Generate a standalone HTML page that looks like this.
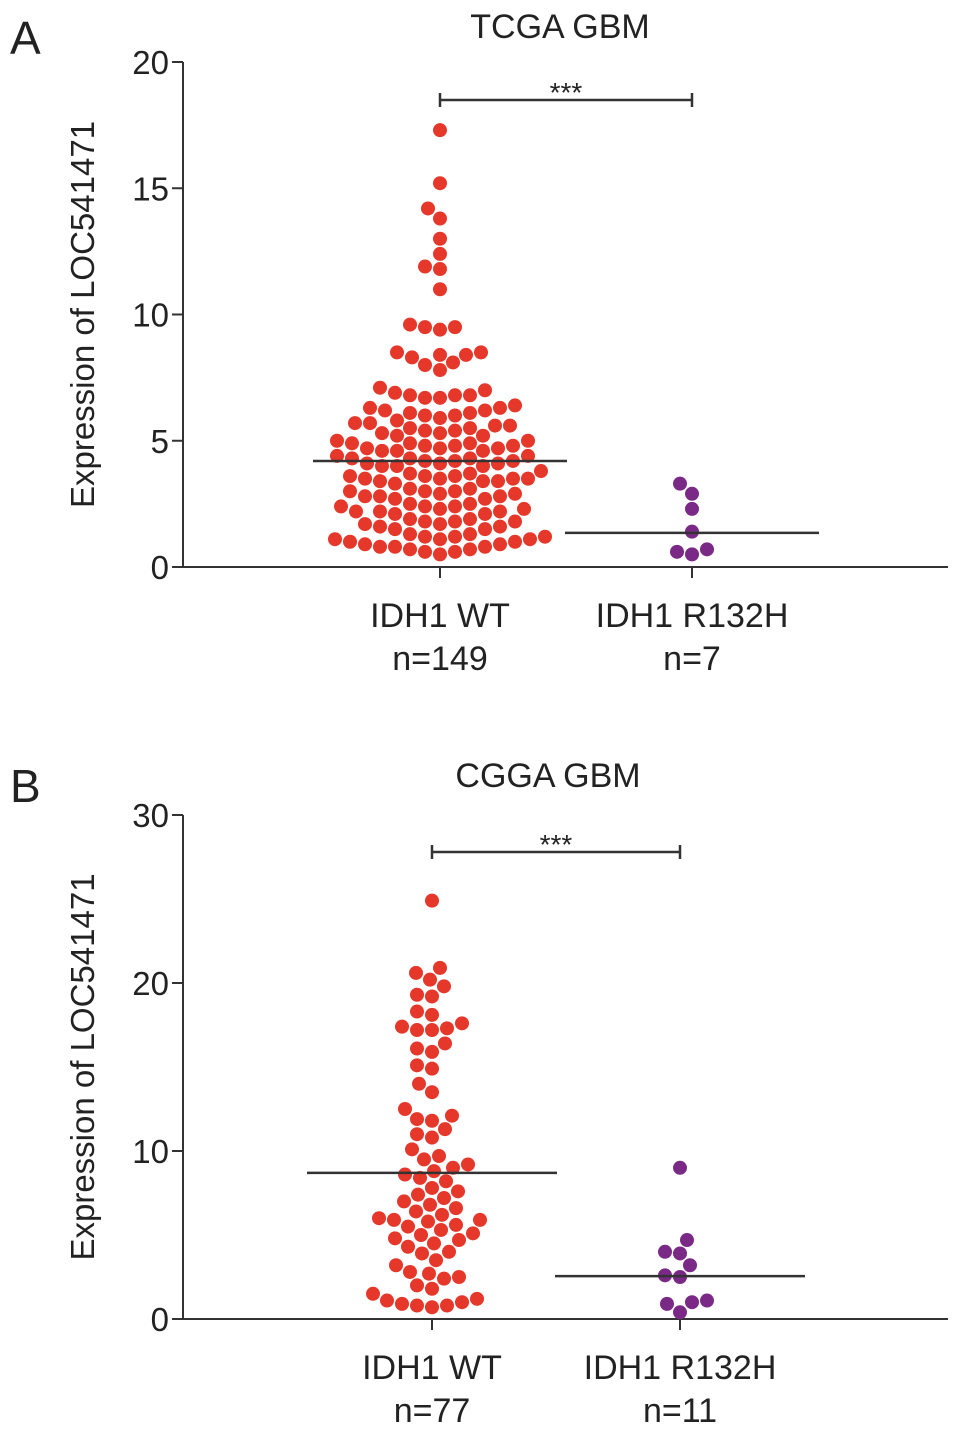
<!DOCTYPE html>
<html><head><meta charset="utf-8"><style>
html,body{margin:0;padding:0;background:#fff;}
svg{display:block;font-family:"Liberation Sans",Arial,sans-serif;}
</style></head><body>
<svg id="chart" width="969" height="1433" viewBox="0 0 969 1433"></svg>
<script>
const aCategories = ["IDH1 WT","IDH1 R132H"];
const aCounts = ["n=149","n=7"];
const aTicks = [0,5,10,15,20];
const aWT = [17.3,15.2,14.2,13.8,13.0,12.4,11.9,11.8,11.0,
9.6,9.5,9.5,9.4,8.5,8.5,8.4,8.4,8.3,8.1,8.0,7.8,
7.1,7.0,6.9,6.8,6.8,6.8,6.7,6.7,
6.4,6.3,6.3,6.2,6.2,6.1,6.1,6.0,6.0,5.9,5.8,
5.7,5.7,5.6,5.6,5.5,5.5,5.4,5.4,5.3,5.3,5.2,5.2,
5.0,5.0,4.9,4.9,4.9,4.8,4.8,4.8,4.7,4.7,4.7,4.6,4.6,4.6,
4.4,4.4,4.3,4.3,4.3,4.2,4.2,4.2,4.1,4.1,4.1,4.0,4.0,4.0,
3.8,3.7,3.7,3.6,3.6,3.6,3.5,3.5,3.5,3.5,3.4,3.4,3.4,3.3,
3.1,3.1,3.0,3.0,3.0,2.9,2.9,2.8,2.8,2.8,2.7,2.7,
2.5,2.5,2.4,2.4,2.4,2.3,2.3,2.2,2.2,2.2,2.1,2.1,
1.9,1.9,1.8,1.8,1.8,1.7,1.7,1.6,1.6,1.5,1.5,
1.3,1.3,1.2,1.2,1.2,1.1,1.1,1.1,1.0,1.0,
0.9,0.9,0.8,0.8,0.8,0.7,0.7,0.6,0.6,0.5];
const aMut = [3.3,2.9,2.3,1.4,0.7,0.6,0.5];
const aMedians = [4.2,1.35];

const bCategories = ["IDH1 WT","IDH1 R132H"];
const bCounts = ["n=77","n=11"];
const bTicks = [0,10,20,30];
const bWT = [24.9,20.9,20.6,20.2,19.8,19.3,19.2,18.3,18.1,17.6,17.4,17.3,17.2,17.2,
16.4,16.1,15.9,15.1,14.9,14.0,13.5,12.5,12.1,11.9,11.8,11.3,11.0,10.8,10.1,
9.7,9.5,9.2,9.0,8.8,8.6,8.4,8.2,7.8,7.6,7.4,7.2,7.0,
6.8,6.6,6.4,6.2,6.0,5.9,5.9,5.8,5.6,5.5,5.3,5.1,5.0,4.8,4.7,4.5,4.3,4.0,
3.9,3.5,3.2,2.8,2.7,2.5,2.4,2.0,1.8,1.5,1.2,1.1,1.0,0.9,0.8,0.8,0.7];
const bMut = [9.0,4.7,4.0,3.9,3.2,2.6,2.5,1.1,1.0,0.9,0.4];
const bMedians = [8.7,2.55];

const svg = document.getElementById('chart');
const NS = 'http://www.w3.org/2000/svg';
function mk(tag, attrs, parent){const e=document.createElementNS(NS,tag);for(const k in attrs)e.setAttribute(k,attrs[k]);(parent||svg).appendChild(e);return e;}

function swarm(vals, cx, yScale, r){
  const placed=[];const out=[];
  const sorted=vals.slice().sort((a,b)=>a-b);
  for(const v of sorted){
    const y=yScale(v);let x=cx;
    for(let s=0;s<400;s++){
      const off=(s%2===0?1:-1)*Math.ceil(s/2);
      const tx=cx+off;
      let ok=true;
      for(const p of placed){const dx=p[0]-tx,dy=p[1]-y;if(dx*dx+dy*dy<(2*r+1)*(2*r+1)){ok=false;break;}}
      if(ok){x=tx;break;}
    }
    placed.push([x,y]);out.push([x,y]);
  }
  return out;
}

function panel(o){
  const g=mk('g',{});
  
  
  const y=v=>o.y0-(v-0)*(o.y0-o.yTop)/o.yMax;
  const t=mk('text',{x:o.letterX,y:o.letterY,'font-size':46,fill:'#222'},g);t.textContent=o.letter;
  
  const ti=mk('text',{x:o.titleX,y:o.titleY,'font-size':34,fill:'#222','text-anchor':'middle'},g);ti.textContent=o.title;
  
  const yt=mk('text',{x:0,y:0,'font-size':33,fill:'#222','text-anchor':'middle',transform:`translate(94,${(o.y0+o.yTop)/2}) rotate(-90)`},g);yt.textContent='Expression of LOC541471';
  
  const ya=mk('line',{x1:o.ax,y1:o.yTop,x2:o.ax,y2:o.y0,stroke:'#333','stroke-width':2},g);
  
  const xa=mk('line',{x1:o.ax,y1:o.y0,x2:948,y2:o.y0,stroke:'#333','stroke-width':2},g);
  
  o.ticks.forEach(v=>{
    const l=mk('line',{x1:o.ax-11,y1:y(v),x2:o.ax,y2:y(v),stroke:'#333','stroke-width':2},g);
    
    const tx=mk('text',{x:o.ax-14,y:y(v)+12,'font-size':33,fill:'#222','text-anchor':'end'},g);tx.textContent=v;
    
  });
  o.cats.forEach((c,i)=>{
    const cx=o.cx[i];
    const l=mk('line',{x1:cx,y1:o.y0,x2:cx,y2:o.y0+11,stroke:'#333','stroke-width':2},g);
    
    const a=mk('text',{x:cx,y:o.y0+60,'font-size':34,fill:'#222','text-anchor':'middle'},g);a.textContent=c;
    
    const b=mk('text',{x:cx,y:o.y0+103,'font-size':34,fill:'#222','text-anchor':'middle'},g);b.textContent=o.counts[i];
    
  });
  const sets=[[o.wt,'#e5372a',o.cx[0]],[o.mut,'#7a2a86',o.cx[1]]];
  sets.forEach((s,i)=>{
    swarm(s[0],s[2],y,7).forEach(p=>{
      const c=mk('circle',{cx:p[0],cy:p[1],r:7,fill:s[1]},g);
      
      
    });
  });
  o.medians.forEach((m,i)=>{
    const l=mk('line',{x1:o.cx[i]-o.halfW,y1:y(m),x2:o.cx[i]+o.halfW,y2:y(m),stroke:'#333','stroke-width':2.5},g);
    
  });
  const br=mk('path',{d:`M${o.cx[0]},${o.brY-7}V${o.brY+7}M${o.cx[0]},${o.brY}H${o.cx[1]}M${o.cx[1]},${o.brY-7}V${o.brY+7}`,stroke:'#333','stroke-width':2.5,fill:'none'},g);
  
  const st=mk('text',{x:(o.cx[0]+o.cx[1])/2,y:o.brY+2,'font-size':28,fill:'#222','text-anchor':'middle'},g);st.textContent='***';
  
}

panel({name:'panel-a',letter:'A',letterX:10,letterY:54,title:'TCGA GBM',titleX:560,titleY:38,
  ax:183,y0:567,yTop:62,yMax:20,ticks:aTicks,cats:aCategories,counts:aCounts,cx:[440,692],
  wt:aWT,mut:aMut,medians:aMedians,halfW:127,brY:100});
panel({name:'panel-b',letter:'B',letterX:10,letterY:802,title:'CGGA GBM',titleX:548,titleY:787,
  ax:183,y0:1319,yTop:815,yMax:30,ticks:bTicks,cats:bCategories,counts:bCounts,cx:[432,680],
  wt:bWT,mut:bMut,medians:bMedians,halfW:125,brY:852});
</script>
</body></html>
